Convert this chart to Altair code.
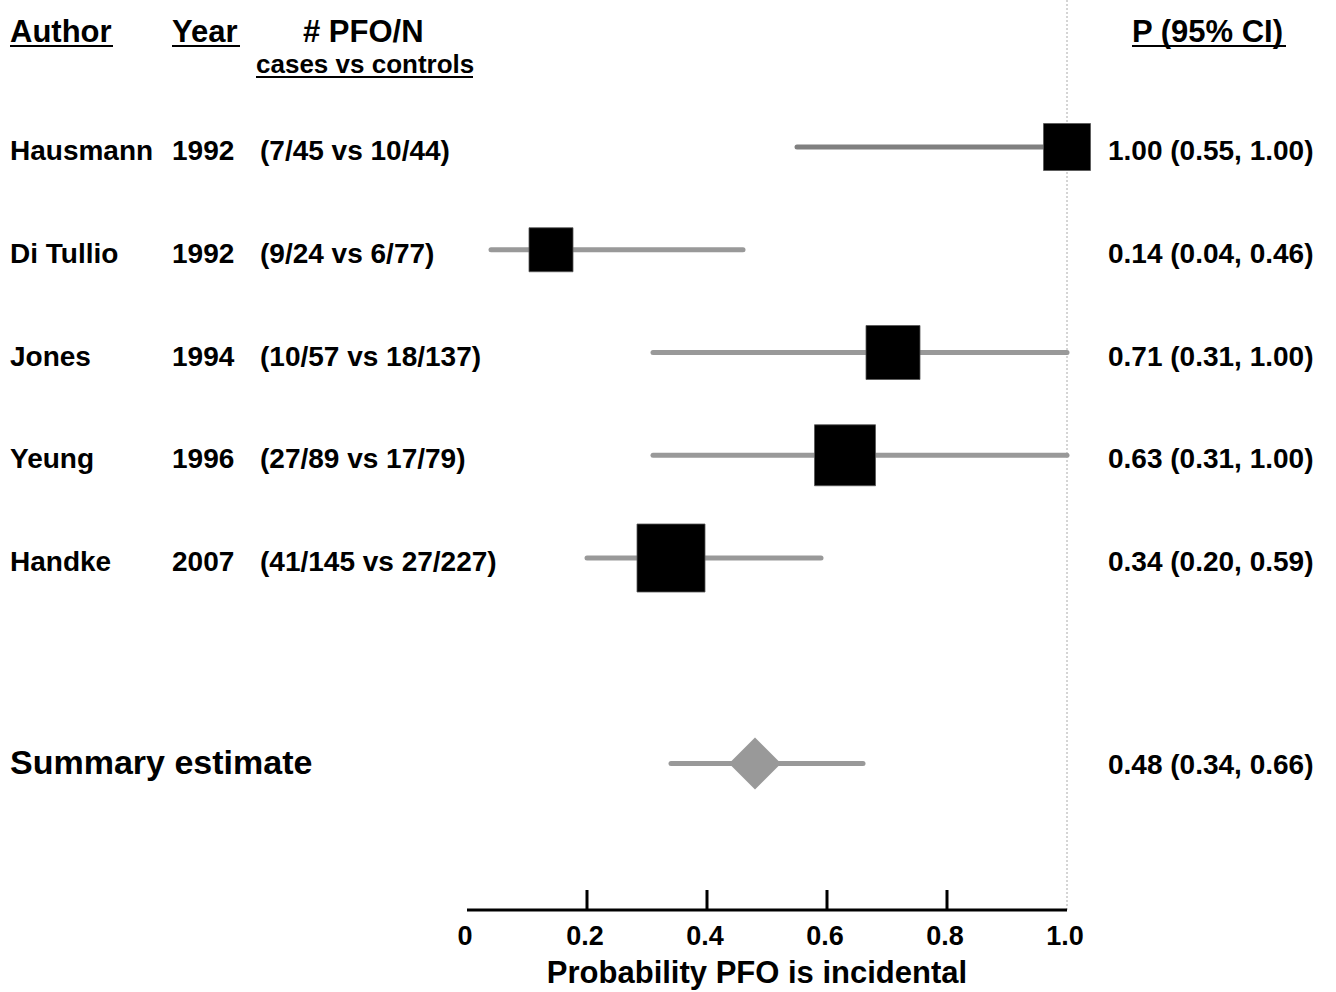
import altair as alt
import pandas as pd

# ---------------- data ----------------
authors = ["Hausmann", "Di Tullio", "Jones", "Yeung", "Handke"]
years = ["1992", "1992", "1994", "1996", "2007"]
counts = ["(7/45 vs 10/44)", "(9/24 vs 6/77)", "(10/57 vs 18/137)",
          "(27/89 vs 17/79)", "(41/145 vs 27/227)"]
estimates = [1.00, 0.14, 0.71, 0.63, 0.34]
ci_low = [0.55, 0.04, 0.31, 0.31, 0.20]
ci_high = [1.00, 0.46, 1.00, 1.00, 0.59]
ci_labels = ["1.00 (0.55, 1.00)", "0.14 (0.04, 0.46)", "0.71 (0.31, 1.00)",
             "0.63 (0.31, 1.00)", "0.34 (0.20, 0.59)"]
box_side = [47, 44, 54, 61, 68]          # study weight shown as square side
line_colors = ["#808080", "#999999", "#999999", "#999999", "#999999"]

summary_label = "Summary estimate"
summary_est = 0.48
summary_low = 0.34
summary_high = 0.66
summary_ci_label = "0.48 (0.34, 0.66)"

tick_values = [0.0, 0.2, 0.4, 0.6, 0.8, 1.0]
tick_labels = ["0", "0.2", "0.4", "0.6", "0.8", "1.0"]
inner_ticks = [0.2, 0.4, 0.6, 0.8]
axis_title = "Probability PFO is incidental"
axis_start, axis_end, reference_value = 0.0, 1.0, 1.0

# ---------------- layout ----------------
W, H = 1336, 992
X0_PX, X_PER_UNIT = 467, 600
Y0_PX, Y_PER_ROW = 147, 102.75
AXIS_Y = 910
FONT = "Liberation Sans"

x_dom = [-X0_PX / X_PER_UNIT, (W - X0_PX) / X_PER_UNIT]
y_dom = [-Y0_PX / Y_PER_ROW, (H - Y0_PX) / Y_PER_ROW]
xs = alt.Scale(domain=x_dom, nice=False, zero=False)
ys = alt.Scale(domain=y_dom, nice=False, zero=False, reverse=True)

studies = pd.DataFrame({
    "author": authors, "year": years, "counts": counts,
    "est": estimates, "lo": ci_low, "hi": ci_high, "ci": ci_labels,
    "size": [s * s for s in box_side], "lc": line_colors,
    "row": list(range(len(authors))),
})
summary = pd.DataFrame({
    "label": [summary_label], "est": [summary_est], "lo": [summary_low],
    "hi": [summary_high], "ci": [summary_ci_label], "row": [len(authors) + 1],
})
ticks_df = pd.DataFrame({"v": tick_values, "lab": tick_labels})
inner_df = pd.DataFrame({"v": inner_ticks})
axis_df = pd.DataFrame({"a": [axis_start], "b": [axis_end]})
ref_df = pd.DataFrame({"v": [reference_value]})
headers_df = pd.DataFrame({
    "t": ["Author", "Year", "# PFO/N", "P (95% CI)"],
    "px": [10, 172, 303, 1132],
})
sub_df = pd.DataFrame({"t": ["cases vs controls"]})
ul_df = pd.DataFrame({
    "x1": [10, 172, 256, 1132], "x2": [113, 240, 473, 1286], "y": [46, 46, 77, 46],
})
title_df = pd.DataFrame({"t": [axis_title]})

X = lambda f: alt.X(f, type="quantitative", scale=xs, axis=None)
Y = lambda f: alt.Y(f, type="quantitative", scale=ys, axis=None)

base = alt.Chart(studies)

ci_rules = base.mark_rule(strokeWidth=5, strokeCap="round").encode(
    x=X("lo"), x2="hi", y=Y("row"), color=alt.Color("lc:N", scale=None))
boxes = base.mark_square(color="black", opacity=1, stroke="#555555",
                         strokeWidth=0.8).encode(
    x=X("est"), y=Y("row"), size=alt.Size("size:Q", scale=None))

txt = dict(align="left", baseline="middle", font=FONT, fontSize=28,
           fontWeight="bold", color="black", dy=5)
col_author = base.mark_text(**txt).encode(x=alt.value(10), y=Y("row"), text="author:N")
col_year = base.mark_text(**txt).encode(x=alt.value(172), y=Y("row"), text="year:N")
col_counts = base.mark_text(**txt).encode(x=alt.value(260), y=Y("row"), text="counts:N")
col_ci = base.mark_text(**txt).encode(x=alt.value(1108), y=Y("row"), text="ci:N")

sbase = alt.Chart(summary)
s_rule = sbase.mark_rule(strokeWidth=5, strokeCap="round", color="#999999").encode(
    x=X("lo"), x2="hi", y=Y("row"))
s_diamond = sbase.mark_point(shape="diamond", filled=True, color="#999999",
                             opacity=1, size=2704).encode(x=X("est"), y=Y("row"))
s_label = sbase.mark_text(align="left", baseline="middle", font=FONT, fontSize=34,
                          fontWeight="bold", color="black").encode(
    x=alt.value(10), y=Y("row"), text="label:N")
s_ci = sbase.mark_text(**{**txt, "dy": 2}).encode(x=alt.value(1108), y=Y("row"), text="ci:N")

# headers
hdr = dict(align="left", baseline="alphabetic", font=FONT, fontSize=31,
           fontWeight="bold", color="black")
headers = alt.Chart(headers_df).mark_text(**hdr).encode(
    x=alt.X("px:Q", scale=None, axis=None), y=alt.value(42), text="t:N")
subheader = alt.Chart(sub_df).mark_text(**{**hdr, "fontSize": 26}).encode(
    x=alt.value(256), y=alt.value(73), text="t:N")
underlines = alt.Chart(ul_df).mark_rule(color="black", strokeWidth=2).encode(
    x=alt.X("x1:Q", scale=None, axis=None), x2="x2:Q",
    y=alt.Y("y:Q", scale=None, axis=None))

# reference line at 1.0
ref_line = alt.Chart(ref_df).mark_rule(color="#aaaaaa", strokeWidth=1,
                                       strokeDash=[2, 2]).encode(
    x=X("v"), y=alt.value(0), y2=alt.value(AXIS_Y))

# axis
axis_line = alt.Chart(axis_df).mark_rule(color="black", strokeWidth=3).encode(
    x=X("a"), x2="b", y=alt.value(AXIS_Y))
axis_ticks = alt.Chart(inner_df).mark_rule(color="black", strokeWidth=3).encode(
    x=X("v"), y=alt.value(AXIS_Y - 20), y2=alt.value(AXIS_Y))
axis_labels = alt.Chart(ticks_df).mark_text(
    align="center", baseline="middle", font=FONT, fontSize=27, fontWeight="bold",
    color="black", dx=-2).encode(x=X("v"), y=alt.value(937), text="lab:N")
axis_ttl = alt.Chart(title_df).mark_text(align="center", baseline="middle", font=FONT,
                                         fontSize=31, fontWeight="bold",
                                         color="black").encode(
    x=alt.value(757), y=alt.value(974), text="t:N")

chart = alt.layer(
    ref_line, ci_rules, boxes, s_rule, s_diamond,
    col_author, col_year, col_counts, col_ci, s_label, s_ci,
    headers, subheader, underlines, axis_line, axis_ticks, axis_labels, axis_ttl,
).resolve_scale(x="shared", y="shared").properties(
    width=W, height=H, padding=0, autosize=alt.AutoSizeParams(type="none"),
    background="white",
).configure_view(strokeWidth=0)

chart.save("out.html", embed_options={"renderer": "svg", "actions": False})
